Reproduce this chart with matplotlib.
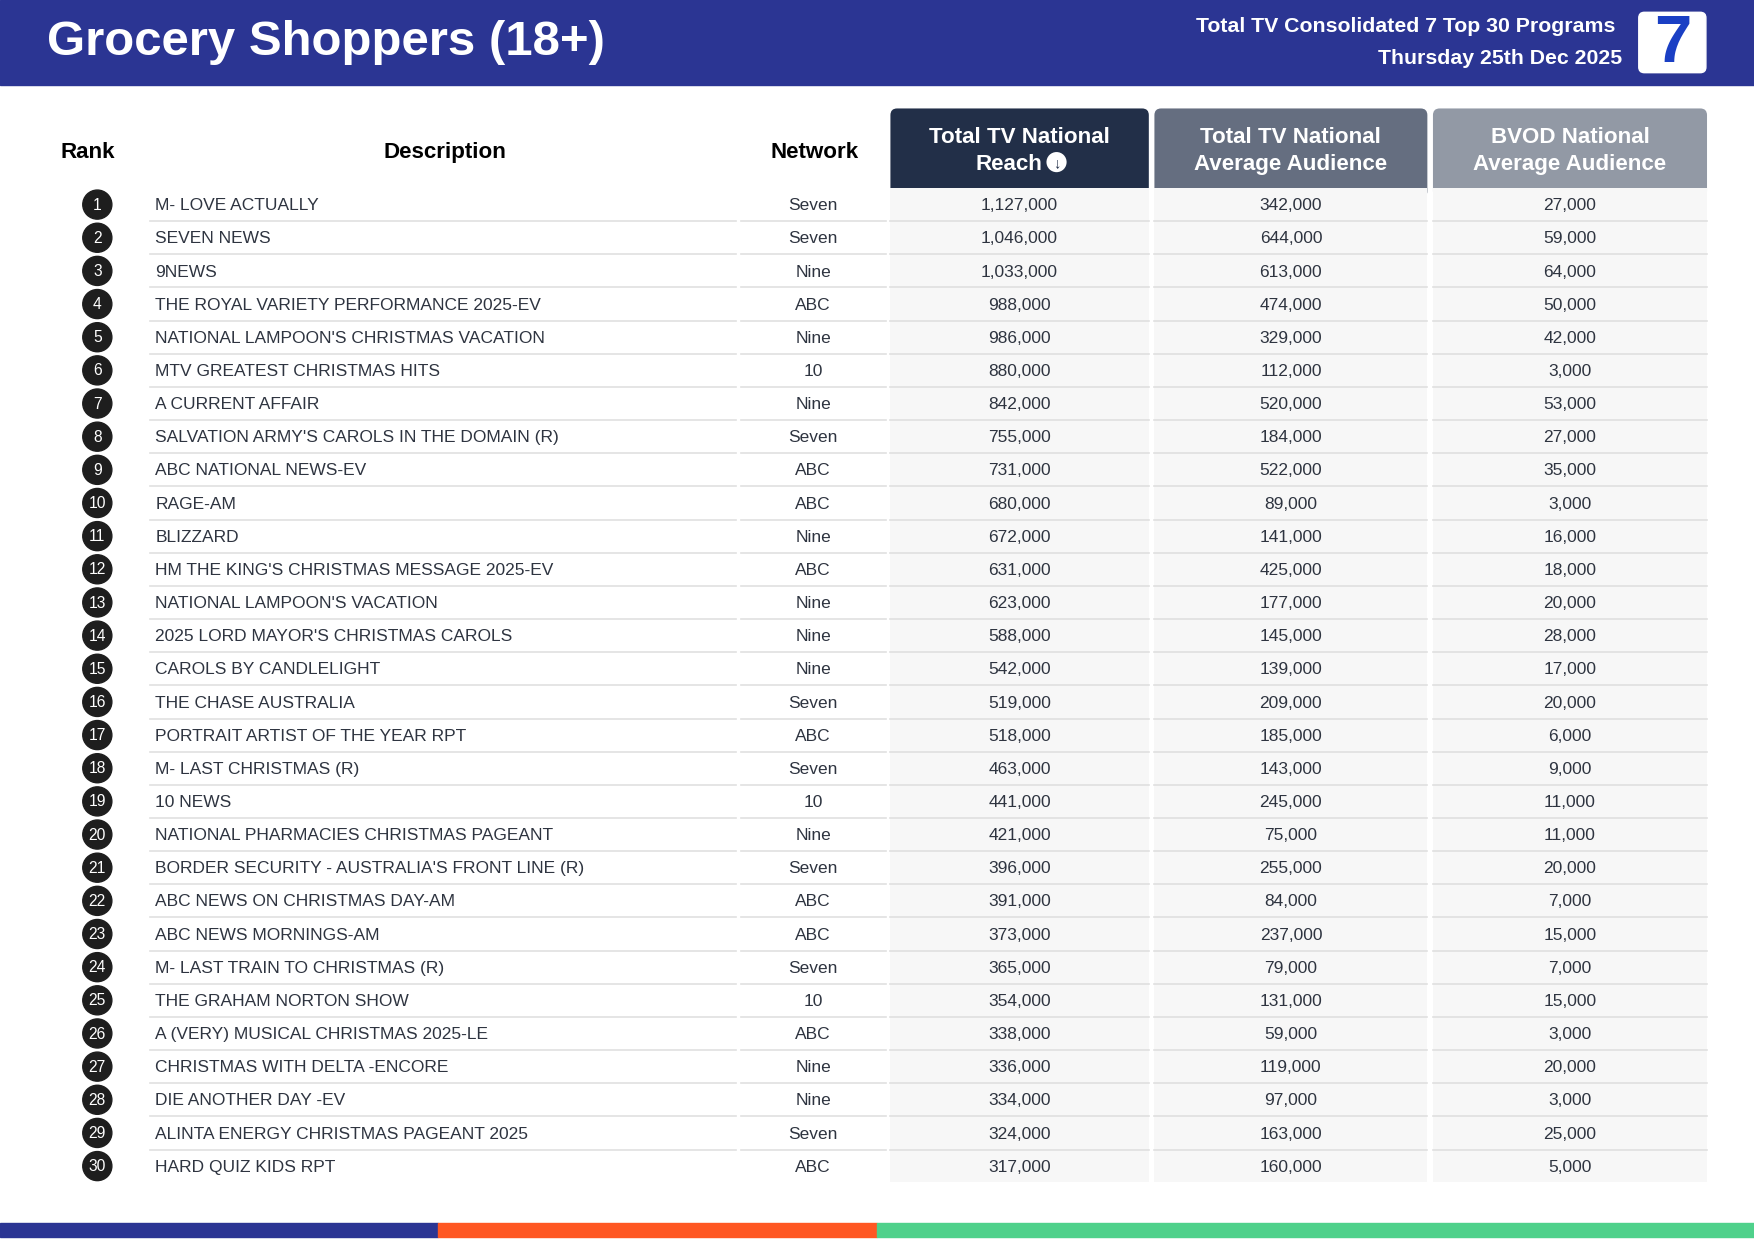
import matplotlib
matplotlib.use("Agg")
import matplotlib.pyplot as plt
from matplotlib.patches import Rectangle, FancyBboxPatch, Circle

ranks = list(range(1, 31))
descriptions = ["M- LOVE ACTUALLY", "SEVEN NEWS", "9NEWS", "THE ROYAL VARIETY PERFORMANCE 2025-EV",
    "NATIONAL LAMPOON'S CHRISTMAS VACATION", "MTV GREATEST CHRISTMAS HITS", "A CURRENT AFFAIR",
    "SALVATION ARMY'S CAROLS IN THE DOMAIN (R)", "ABC NATIONAL NEWS-EV", "RAGE-AM", "BLIZZARD",
    "HM THE KING'S CHRISTMAS MESSAGE 2025-EV", "NATIONAL LAMPOON'S VACATION",
    "2025 LORD MAYOR'S CHRISTMAS CAROLS", "CAROLS BY CANDLELIGHT", "THE CHASE AUSTRALIA",
    "PORTRAIT ARTIST OF THE YEAR RPT", "M- LAST CHRISTMAS (R)", "10 NEWS",
    "NATIONAL PHARMACIES CHRISTMAS PAGEANT", "BORDER SECURITY - AUSTRALIA'S FRONT LINE (R)",
    "ABC NEWS ON CHRISTMAS DAY-AM", "ABC NEWS MORNINGS-AM", "M- LAST TRAIN TO CHRISTMAS (R)",
    "THE GRAHAM NORTON SHOW", "A (VERY) MUSICAL CHRISTMAS 2025-LE", "CHRISTMAS WITH DELTA -ENCORE",
    "DIE ANOTHER DAY -EV", "ALINTA ENERGY CHRISTMAS PAGEANT 2025", "HARD QUIZ KIDS RPT"]
networks = ["Seven", "Seven", "Nine", "ABC", "Nine", "10", "Nine", "Seven", "ABC", "ABC", "Nine", "ABC",
    "Nine", "Nine", "Nine", "Seven", "ABC", "Seven", "10", "Nine", "Seven", "ABC", "ABC", "Seven", "10",
    "ABC", "Nine", "Nine", "Seven", "ABC"]
reach = [1127000, 1046000, 1033000, 988000, 986000, 880000, 842000, 755000, 731000, 680000, 672000,
    631000, 623000, 588000, 542000, 519000, 518000, 463000, 441000, 421000, 396000, 391000, 373000,
    365000, 354000, 338000, 336000, 334000, 324000, 317000]
avg_aud = [342000, 644000, 613000, 474000, 329000, 112000, 520000, 184000, 522000, 89000, 141000,
    425000, 177000, 145000, 139000, 209000, 185000, 143000, 245000, 75000, 255000, 84000, 237000,
    79000, 131000, 59000, 119000, 97000, 163000, 160000]
bvod = [27000, 59000, 64000, 50000, 42000, 3000, 53000, 27000, 35000, 3000, 16000, 18000, 20000,
    28000, 17000, 20000, 6000, 9000, 11000, 11000, 20000, 7000, 15000, 7000, 15000, 3000, 20000,
    3000, 25000, 5000]
title = "Grocery Shoppers (18+)"
subtitle1 = "Total TV Consolidated 7 Top 30 Programs"
subtitle2 = "Thursday 25th Dec 2025"

plt.rcParams["font.family"] = "Liberation Sans"
W, H = 1568, 1110
fig = plt.figure(figsize=(17.54, 12.41), dpi=100)
ax = fig.add_axes([0, 0, 1, 1])
ax.set_xlim(0, W); ax.set_ylim(H, 0); ax.axis("off")
S = 0.805  # px -> pt

BLUE = "#2B3593"
ax.add_patch(Rectangle((0, 0), W, 76, color=BLUE))
ax.text(42, 38, title, color="white", fontsize=44*S, fontweight="bold", va="center", ha="left")
ax.text(1444, 24, subtitle1, color="white", fontsize=19*S, fontweight="bold", va="center", ha="right")
ax.text(1450, 52, subtitle2, color="white", fontsize=19*S, fontweight="bold", va="center", ha="right")
ax.add_patch(FancyBboxPatch((1465, 11), 60, 54, boxstyle="round,pad=0,rounding_size=5", color="white"))
ax.text(1495, 40, "7", color="#1A3FC4", fontsize=60*S, fontweight="bold",
        va="center", ha="center")

# column headers
for x, t in [(78, "Rank"), (398, "Description"), (728, "Network")]:
    ax.text(x, 136, t, fontsize=20*S, fontweight="bold", ha="center", va="center", color="black")
cols = [(796, 1027, "#222F48"), (1032, 1276, "#656E80"), (1281, 1526, "#9299A5")]
for x0, x1, c in cols:
    ax.add_patch(FancyBboxPatch((x0, 97), x1 - x0, 80, boxstyle="round,pad=0,rounding_size=6",
                                facecolor=c, edgecolor="none"))
    ax.add_patch(Rectangle((x0, 168), x1 - x0, 889, facecolor="#F7F7F7", edgecolor="none"))
heads = [("Total TV National", "Reach"), ("Total TV National", "Average Audience"),
         ("BVOD National", "Average Audience")]
for (x0, x1, c), (l1, l2) in zip(cols, heads):
    cx = (x0 + x1) / 2
    ax.text(cx, 123, l1, fontsize=20*S, fontweight="bold", ha="center", va="center", color="white")
    if l2 == "Reach":
        ax.text(cx - 10, 147, l2, fontsize=20*S, fontweight="bold", ha="center", va="center", color="white")
        ax.add_patch(Circle((cx + 33, 145), 9, facecolor="white", edgecolor="none"))
        ax.text(cx + 33, 145.5, "↓", fontsize=13*S, fontweight="bold", color=c, ha="center", va="center")
    else:
        ax.text(cx, 147, l2, fontsize=20*S, fontweight="bold", ha="center", va="center", color="white")

y0, dy = 183, (1043 - 183) / 29
TXT = "#2E3440"
for i in range(30):
    y = y0 + i * dy
    ax.add_patch(Circle((87, y), 13, color="#1E1E1E"))
    ax.text(87, y + 0.5, str(ranks[i]), color="white", fontsize=14*S, ha="center", va="center")
    ax.text(139, y + 1, descriptions[i], color=TXT, fontsize=15.5*S, ha="left", va="center")
    ax.text(727, y + 1, networks[i], color=TXT, fontsize=15.5*S, ha="center", va="center")
    for (x0, x1, _), v in zip(cols, (reach[i], avg_aud[i], bvod[i])):
        ax.text((x0 + x1) / 2, y + 1, f"{v:,}", color=TXT, fontsize=15.5*S, ha="center", va="center")
    if i < 29:
        ly = y + dy / 2
        for a, b in [(134, 658), (662, 792), (796, 1027), (1032, 1276), (1281, 1526)]:
            ax.plot([a, b], [ly, ly], color="#E0E0E0", lw=1.2)

ax.add_patch(Rectangle((0, 1094), 392, 12, color=BLUE))
ax.add_patch(Rectangle((392, 1094), 392, 12, color="#FF5722"))
ax.add_patch(Rectangle((784, 1094), 784, 12, color="#4FD18B"))

fig.savefig("out.png", dpi=100)
